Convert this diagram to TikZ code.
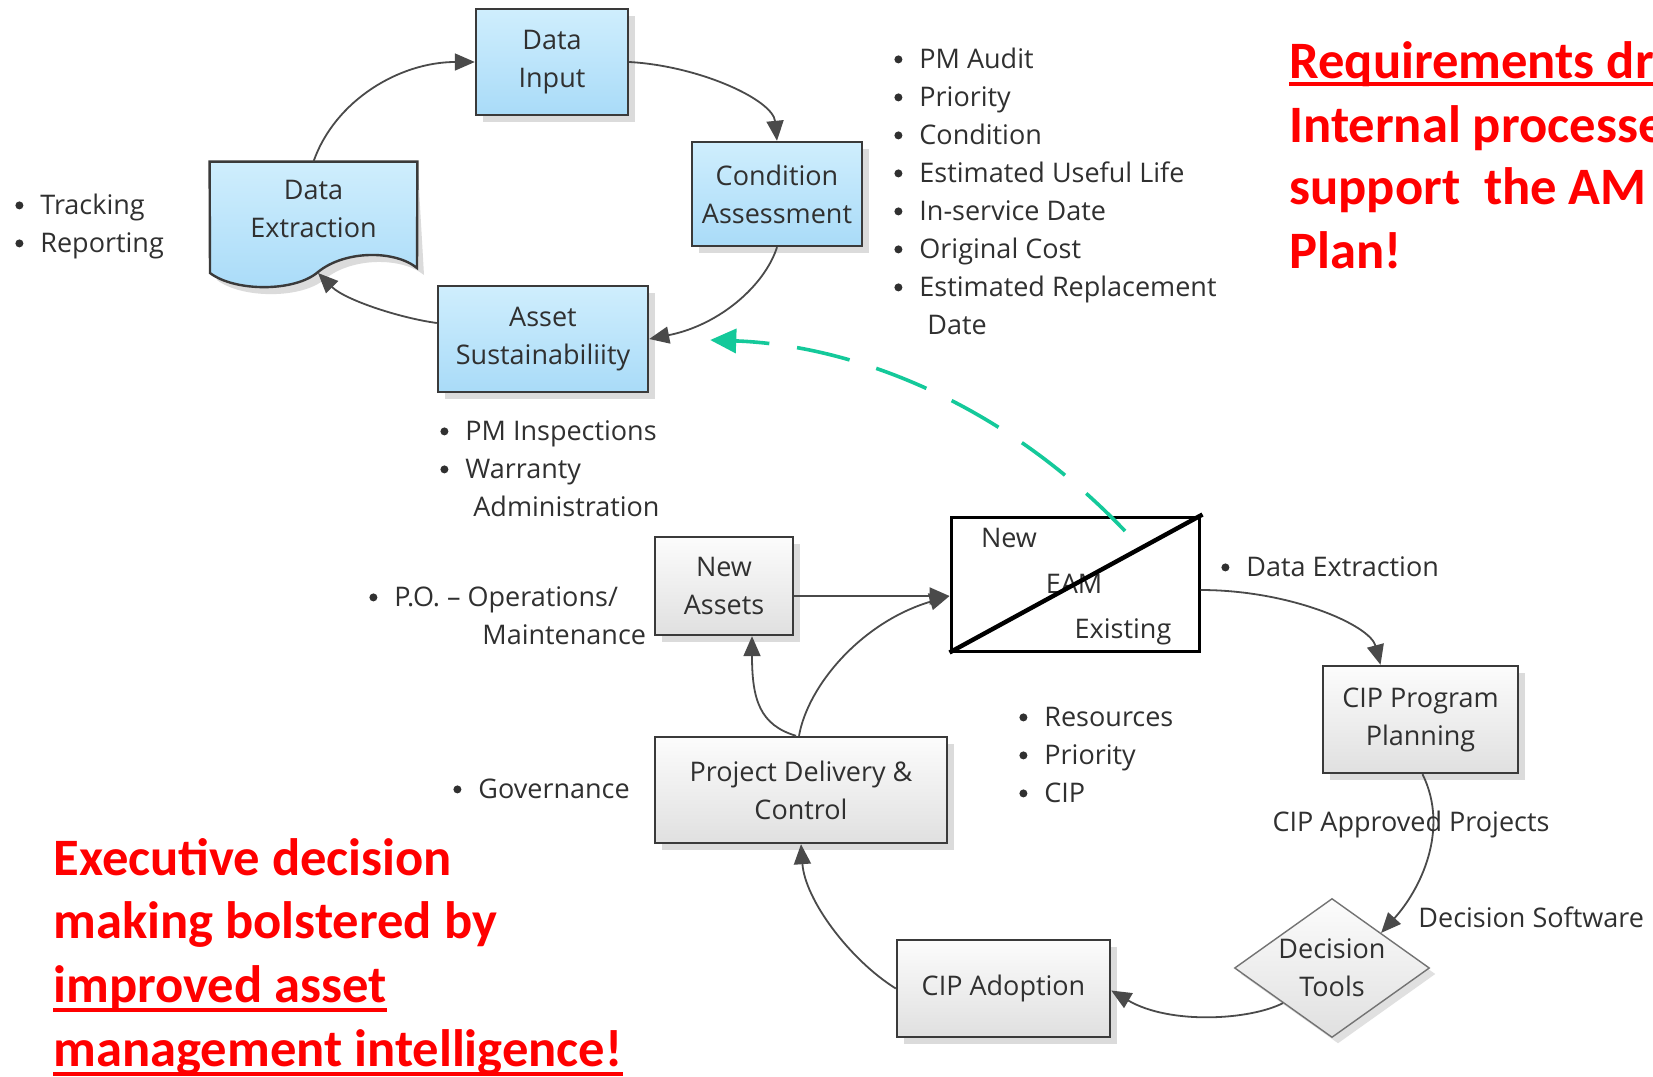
\documentclass[tikz,border=0pt]{standalone}
\usepackage{fontspec}
\setmainfont{Open Sans}
\newfontfamily\redfont{Carlito}
\usetikzlibrary{shapes.geometric,arrows.meta,shadows,calc}

\definecolor{boxedge}{HTML}{3A3A3A}
\definecolor{linegray}{HTML}{4A4A4A}
\definecolor{blueTop}{HTML}{CFEEFD}
\definecolor{blueBot}{HTML}{A9DBF8}
\definecolor{grayTop}{HTML}{FCFCFC}
\definecolor{grayBot}{HTML}{E0E0E0}
\definecolor{linkgreen}{HTML}{14C99A}
\definecolor{txt}{HTML}{303030}

% list bullet: a filled dot hanging left of the item text
\newcommand\bu{\llap{\tikz[baseline=0pt]\fill[txt] (0pt,4.3pt) circle (2pt);\hspace{8.5pt}}}

\tikzset{
  lbl/.style={font=\fontsize{13.5}{19}\selectfont, text=txt},
  boxbase/.style={draw=boxedge, line width=1.2pt, align=center, lbl, inner sep=0pt,
    general shadow={fill=black!14, shadow xshift=3.5pt, shadow yshift=-3.5pt}},
  bluebox/.style={boxbase, top color=blueTop, bottom color=blueBot},
  graybox/.style={boxbase, top color=grayTop, bottom color=grayBot},
  conn/.style={draw=linegray, line width=0.9pt, -{Triangle[length=10pt,width=8.5pt]}},
  lst/.style={lbl, anchor=base west, inner sep=0pt},
  redtxt/.style={font=\redfont\bfseries\fontsize{26.3}{32}\selectfont, text=red,
    anchor=base west, inner sep=0pt},
  redrule/.style={draw=red, line width=2pt},
}

\begin{document}
\begin{tikzpicture}[x=0.5pt, y=-0.5pt]
\useasboundingbox (0,0) rectangle (1653,1076);
\clip (0,0) rectangle (1653,1076);
\fill[white] (0,0) rectangle (1653,1076);

% ---------- upper cycle ----------
\node[bluebox, minimum width=76pt, minimum height=53pt] (di) at (552,62) {Data\\Input};
\node[bluebox, minimum width=85pt, minimum height=52pt] (ca) at (777,194) {Condition\\Assessment};
\node[bluebox, minimum width=105pt, minimum height=53pt] (as) at (543,339) {Asset\\Sustainabiliity};

% document shape for Data Extraction
\node[inner sep=0pt, minimum width=103.5pt, minimum height=53pt] (dx) at (313.5,215) {};
\fill[black!14, xshift=3.5pt, yshift=-3.5pt]
  (dx.north west) -- (dx.north east) -- (417,268)
  .. controls (395,250) and (345,250) .. (318,272)
  .. controls (295,292) and (235,292) .. (210,273) -- cycle;
\draw[draw=boxedge, line width=1.2pt, top color=blueTop, bottom color=blueBot]
  (dx.north west) -- (dx.north east) -- (417,268)
  .. controls (395,250) and (345,250) .. (318,272)
  .. controls (295,292) and (235,292) .. (210,273) -- cycle;
\node[lbl, align=center] (dxt) at (313.5,209) {Data\\Extraction};
\coordinate (dxw) at (318,273);

\draw[conn] (dx.north) .. controls (335,100) and (400,62) .. (di.west);
\draw[conn] (di.east) .. controls (700,66) and (773,100) .. (ca.north);
\draw[conn] (ca.south) .. controls (765,285) and (720,325) .. (as.east);
\draw[conn] ($(as.west)+(0,-16)$) .. controls (400,318) and (345,300) .. (dxw);

% ---------- lower cycle ----------
\node[graybox, minimum width=69pt, minimum height=49pt] (na) at (724,586) {New\\Assets};
\node[graybox, minimum width=146pt, minimum height=53pt] (pd) at (801,790) {Project Delivery \&\\Control};
\node[graybox, minimum width=97.5pt, minimum height=53.5pt] (cpp) at (1420.5,719.5) {CIP Program\\Planning};
\node[graybox, minimum width=106.5pt, minimum height=48.5pt] (cad) at (1003.5,988.5) {CIP Adoption};
\node[diamond, draw=black!55, line width=0.7pt, top color=grayTop, bottom color=grayBot,
  general shadow={fill=black!12, shadow xshift=3pt, shadow yshift=-3pt},
  minimum width=97.5pt, minimum height=69.5pt, inner sep=0pt] (dt) at (1332,968) {};
\node[lbl, align=center] (dtt) at (1332,968) {Decision\\Tools};

% EAM box, split by a diagonal
\node[draw=black, line width=1.5pt, fill=white, minimum width=124pt, minimum height=67pt, inner sep=0pt] (eam) at (1075,584) {};
\node[lbl] (eamnew) at (1009,538) {New};
\node[lbl] (eamlbl) at (1074,584) {EAM};
\node[lbl] (eamold) at (1123,632) {Existing};
\draw[line width=2.2pt, black] (eam.south west) -- ($(eam.north east)+(2,-1)$);

\draw[conn, line width=1.2pt] ($(na.east)+(0,10)$) -- ($(eam.west)+(0,12)$);
\draw[conn] ($(pd.north)+(-2,0)$) .. controls (808,685) and (862,622) .. ($(eam.west)+(0,12)$);
\draw[conn] ($(pd.north)+(-5,0)$) .. controls (760,725) and (752,700) .. ($(na.south)+(28,0)$);
\draw[conn] ($(eam.east)+(0,6)$) .. controls (1290,590) and (1370,625) .. ($(cpp.north)+(-40,0)$);
\draw[conn] ($(cpp.south)+(2,0)$) .. controls (1450,830) and (1420,890) .. (dt.north east);
\draw[conn] (dt.south west) .. controls (1250,1020) and (1170,1025) .. ($(cad.east)+(0,2)$);
\draw[conn] (cad.west) .. controls (850,960) and (805,900) .. (pd.south);

% feedback from the EAM to asset sustainability
\coordinate (gs) at (1125,531);
\coordinate (ge) at ($(as.east)+(61,1)$);
\draw[linkgreen, line width=1.8pt, dash pattern=on 27pt off 14pt,
  -{Triangle[length=13pt,width=12pt]}] (gs) .. controls (1000,400) and (850,345) .. (ge);

% ---------- bullet lists and labels ----------
\node[lst] (trk) at (40,214) {\begin{tabular}[t]{@{}l@{}}\bu Tracking\\ \bu Reporting\end{tabular}};
\node[lst] (pm) at (919,68) {\begin{tabular}[t]{@{}l@{}}\bu PM Audit\\ \bu Priority\\ \bu Condition\\
  \bu Estimated Useful Life\\ \bu In-service Date\\ \bu Original Cost\\ \bu Estimated Replacement\\
  \hspace{4pt}Date\end{tabular}};
\node[lst] (pmi) at (465,440) {\begin{tabular}[t]{@{}l@{}}\bu PM Inspections\\ \bu Warranty\\
  \hspace{4pt}Administration\end{tabular}};
\node[lst] (po) at (394,606) {\bu P.O. – Operations/};
\node[lst] (pom) at (482,644) {Maintenance};
\node[lst] (gov) at (478,798) {\bu Governance};
\node[lst] (dxl) at (1246,576) {\bu Data Extraction};
\node[lst] (res) at (1044,726) {\begin{tabular}[t]{@{}l@{}}\bu Resources\\ \bu Priority\\ \bu CIP\end{tabular}};
\node[lbl, anchor=base, inner sep=0pt] (cap) at (1411,831) {CIP Approved Projects};
\node[lst] (dsw) at (1418,927) {Decision Software};

% ---------- red call-outs ----------
\node[redtxt] (r1) at (1289,78) {Requirements driven};
\node[redtxt] (r2) at (1289,142) {Internal processes};
\node[redtxt] (r3) at (1289,204) {support~ the AM};
\node[redtxt] (r4) at (1289,268) {Plan!};
\draw[redrule] ($(r1.base west)+(0,6)$) -- ($(r1.base east)+(0,6)$);

\node[redtxt] (e1) at (53,875) {Executive decision};
\node[redtxt] (e2) at (53,938) {making bolstered by};
\node[redtxt] (e3) at (53,1002) {improved asset};
\node[redtxt] (e4) at (53,1066) {management intelligence!};
\draw[redrule] ($(e3.base west)+(0,8)$) -- ($(e3.base east)+(0,8)$);
\draw[redrule] ($(e4.base west)+(0,8)$) -- ($(e4.base east)+(0,8)$);
\end{tikzpicture}
\end{document}
